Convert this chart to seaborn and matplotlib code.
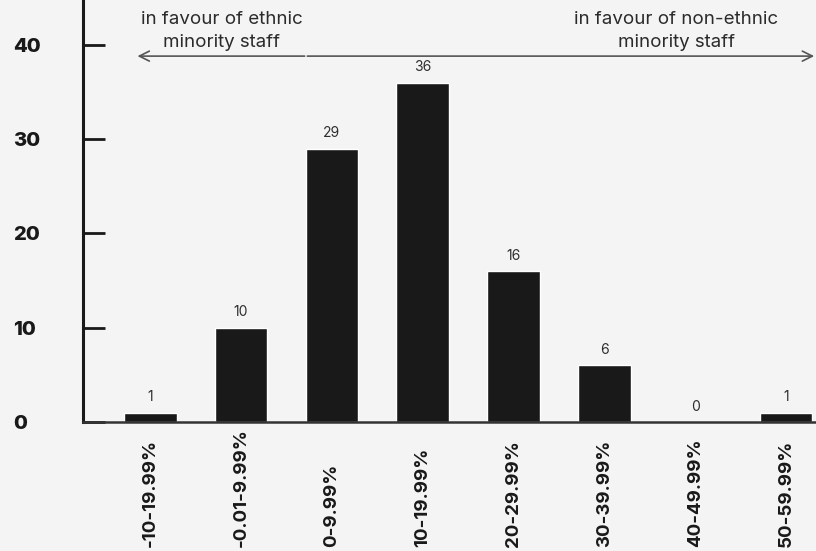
import matplotlib
matplotlib.use("Agg")
import matplotlib.pyplot as plt
import seaborn as sns
import pandas as pd

# bins of the pay gap and number of organisations in each
categories = ['-10-19.99%', '-0.01-9.99%', '0-9.99%', '10-19.99%',
              '20-29.99%', '30-39.99%', '40-49.99%', '50-59.99%']
counts = [1, 10, 29, 36, 16, 6, 0, 1]
yticks = [0, 10, 20, 30, 40]
left_note = 'in favour of ethnic\nminority staff'
right_note = 'in favour of non-ethnic\nminority staff'

bg = '#f4f4f4'
ink = '#181918'

sns.set_theme(style='white')
plt.rcParams['font.family'] = ['Inter', 'DejaVu Sans']

df = pd.DataFrame({'band': categories, 'n': counts})

fig = plt.figure(figsize=(8.16, 5.51), dpi=100, facecolor=bg)
ax = fig.add_axes([83 / 816, 1 - 422 / 551, 1 - 83 / 816, 422 / 551])
ax.set_facecolor(bg)

sns.barplot(data=df, x='band', y='n', color=ink, width=0.58, saturation=1, ax=ax)

ax.set_xlim(-0.74, 7.33)
ax.set_ylim(0, 44.75)
ax.set_xlabel('')
ax.set_ylabel('')

# value labels above bars
ax.bar_label(ax.containers[0], labels=[str(v) for v in counts], padding=6,
             fontsize=10, color='#2e2e2e')

# spines
sns.despine(ax=ax, top=True, right=True)
ax.spines['left'].set_color(ink)
ax.spines['left'].set_linewidth(2.2)
ax.spines['bottom'].set_color('#333333')
ax.spines['bottom'].set_linewidth(1.8)

# y axis: ticks inside, bold labels aligned left
ax.set_yticks(yticks)
ax.tick_params(axis='y', direction='in', length=16, width=2, color=ink,
               pad=50, labelsize=14.5, labelcolor=ink, left=True)
for t in ax.get_yticklabels():
    t.set_ha('left')
    t.set_fontweight('heavy')

# x axis: rotated bold labels, running off the bottom as in the original
ax.tick_params(axis='x', bottom=False, pad=84, labelsize=13.5, labelcolor=ink)
ax.set_xticks(range(len(categories)))
ax.set_xticklabels(categories, rotation=90, va='bottom', ha='center',
                   fontweight='bold')

# direction arrows and notes
ax.annotate('', xy=(-0.14, 38.8), xytext=(1.70, 38.8),
            arrowprops=dict(arrowstyle='->', color='#555555', lw=1.2,
                            mutation_scale=18, shrinkA=0, shrinkB=0),
            annotation_clip=False)
ax.annotate('', xy=(7.31, 38.8), xytext=(1.73, 38.8),
            arrowprops=dict(arrowstyle='->', color='#555555', lw=1.2,
                            mutation_scale=18, shrinkA=0, shrinkB=0),
            annotation_clip=False)
ax.text(0.79, 41.5, left_note, ha='center', va='center', fontsize=13.5,
        color='#2b2b2b', linespacing=1.45)
ax.text(5.79, 41.5, right_note, ha='center', va='center', fontsize=13.5,
        color='#2b2b2b', linespacing=1.45)

fig.savefig('out.png', dpi=100, facecolor=bg)
